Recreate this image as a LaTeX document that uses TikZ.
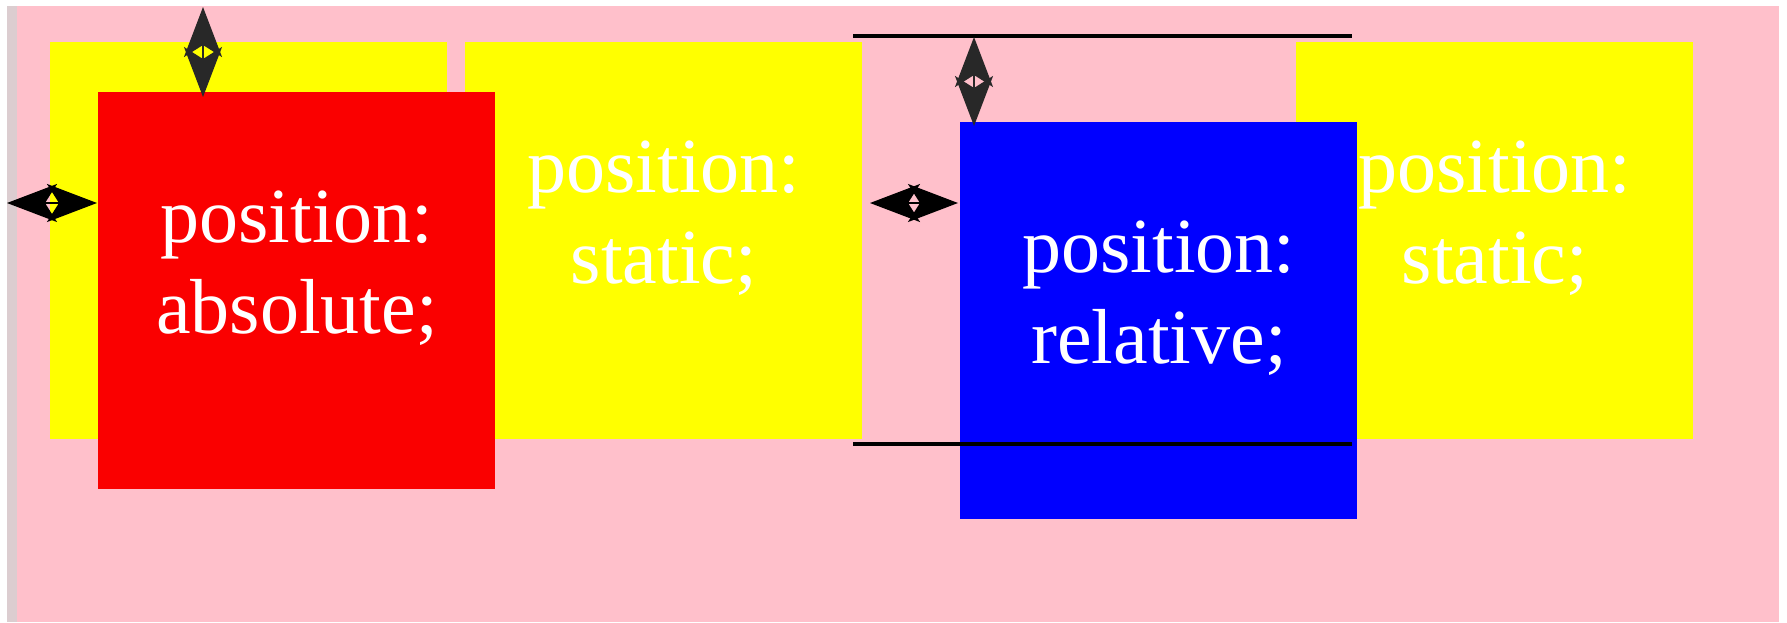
\documentclass[tikz,border=0pt]{standalone}
\usepackage{fontspec}
\setmainfont{Liberation Serif}
\usepackage{tikz}
\usetikzlibrary{calc,positioning,arrows.meta}
\definecolor{pagepink}{HTML}{FFC0CB}
\definecolor{boxyellow}{HTML}{FFFF00}
\definecolor{boxred}{HTML}{FA0000}
\definecolor{boxblue}{HTML}{0000FF}
\definecolor{framegrey}{HTML}{DCCDD0}
\definecolor{arrowgrey}{HTML}{282828}
\tikzset{
    cssbox/.style={rectangle, anchor=north west, inner sep=0pt, minimum width=198.5pt, minimum height=198.5pt},
    staticbox/.style={cssbox, fill=boxyellow},
    boxtext/.style={anchor=base, align=center, text=white, inner sep=0pt, font=\fontsize{39pt}{45.5pt}\selectfont},
    offsetarrow/.style={draw, line width=1pt, {Stealth[length=25pt, width=19pt, inset=6pt]}-{Stealth[length=25pt, width=19pt, inset=6pt]}},
    guideline/.style={draw=black, line width=2pt}
}

\begin{document}
\begin{tikzpicture}[x=0.5pt, y=-0.5pt]
    \useasboundingbox (0,0) rectangle (1787,622);
    \fill[white] (0,0) rectangle (1787,622);
    \fill[framegrey] (7,6) rectangle (17,622);
    \fill[pagepink] (17,6) rectangle (1779,622);

    % Nodes
    \node[staticbox] (Y1) at (50,42) {};
    \node[staticbox] (Y2) at (465,42) {};
    \node[boxtext] (T2) at ($(Y2.north)+(0,241)$) {position:\\static;};
    \node[staticbox] (Y3) at (1296,42) {};
    \node[boxtext] (T3) at ($(Y3.north)+(0,241)$) {position:\\static;};

    \node[cssbox, fill=boxblue] (rel) at (960,122) {};
    \node[boxtext] (relT) at ($(rel.north)+(0,241)$) {position:\\relative;};
    \node[cssbox, fill=boxred] (abs) at (98,92) {};
    \node[boxtext] (absT) at ($(abs.north)+(0,241)$) {position:\\absolute;};

    % original place of the relative box
    \coordinate (topL) at (853,36);
    \coordinate (topR) at (1352,36);
    \coordinate (botL) at (853,444);
    \coordinate (botR) at (1352,444);
    \draw[guideline] (topL) -- (topR);
    \draw[guideline] (botL) -- (botR);

    % edges
    \coordinate (absTop) at (203,7);
    \coordinate (absTopEnd) at (203,97);
    \coordinate (absLeft) at (7,203);
    \coordinate (absLeftEnd) at (97,203);
    \coordinate (relTop) at (974,37);
    \coordinate (relTopEnd) at (974,126);
    \coordinate (relLeft) at (870,203);
    \coordinate (relLeftEnd) at (958,203);
    \draw[offsetarrow, arrowgrey] (absTop) -- (absTopEnd);
    \draw[offsetarrow, black] (absLeft) -- (absLeftEnd);
    \draw[offsetarrow, arrowgrey] (relTop) -- (relTopEnd);
    \draw[offsetarrow, black] (relLeft) -- (relLeftEnd);
\end{tikzpicture}
\end{document}
